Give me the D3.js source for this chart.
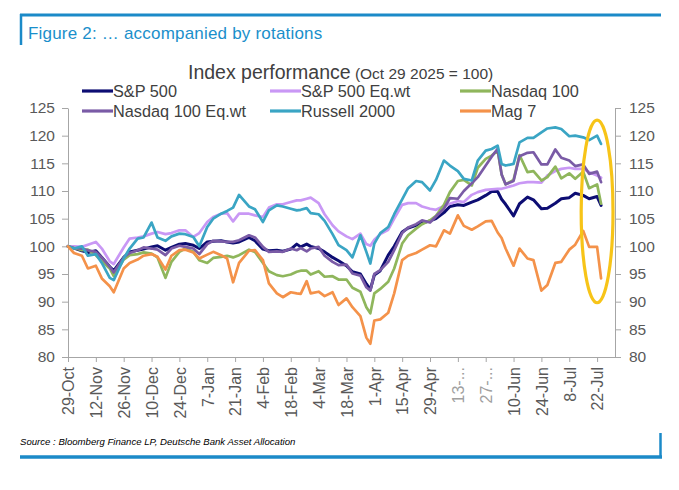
<!DOCTYPE html>
<html><head><meta charset="utf-8">
<script src="https://cdn.jsdelivr.net/npm/d3@7"></script>
<style>
body{margin:0;background:#fff;}
svg{display:block;font-family:"Liberation Sans",Arial,sans-serif;}
</style>
</head><body>
<svg id="c" width="679" height="490"></svg>
<script>
// ---------- DATA ----------
const baseDate = "2025-10-29";
// observation dates as day offsets from baseDate
const dayOffsets = [0,3,7,10,14,17,21,23,28,31,35,38,42,45,49,52,56,59,63,66,70,73,77,80,83,86,91,94,98,101,105,108,112,115,117,120,122,126,129,133,136,140,143,147,150,152,154,157,161,164,168,171,175,178,182,185,189,192,196,199,203,206,210,213,216,218,220,224,227,231,234,238,241,245,248,252,255,259,262,266,268];

const sp500 = [100,99.7,99.2,98.9,99.2,98.0,96.3,95.6,98.0,99.0,
 99.3,99.5,99.9,100.1,99.3,99.8,100.4,100.5,100.2,99.6,
 100.8,100.9,101.0,100.8,100.6,100.8,101.6,101.0,99.5,99.2,
 99.3,99.1,99.5,100.4,99.9,100.4,100.0,99.6,99.0,98.0,
 97.4,96.5,95.4,95.0,93.2,92.2,94.8,95.6,98.4,100.0,
 102.6,103.3,103.8,104.2,104.6,105.0,106.1,107.2,107.5,107.4,
 108.0,108.4,109.2,109.9,109.9,108.5,107.6,105.5,107.7,108.9,
 108.4,106.8,106.9,107.8,108.6,108.8,109.6,109.2,108.6,109.0,
 107.4];
const sp500Eqwt = [100,100.0,99.9,100.3,100.8,99.6,97.3,96.8,99.8,101.4,
 101.6,101.8,102.3,102.6,102.2,102.4,102.9,102.9,101.7,102.4,
 104.4,105.3,105.9,106.0,104.5,105.9,105.9,105.6,105.3,107.0,
 107.6,107.6,108.0,108.3,108.3,108.6,108.8,107.8,105.8,103.8,
 102.7,101.8,101.3,102.3,100.4,100.1,101.2,102.2,103.0,105.0,
 107.5,107.8,107.8,107.2,106.8,106.6,107.3,107.7,108.2,108.0,
 109.3,109.8,110.2,110.3,110.4,110.4,110.6,111.0,111.4,111.6,
 111.6,111.5,112.8,113.6,114.0,114.2,114.0,114.0,113.4,112.8,
 112.4];
const nasdaq100 = [100,99.7,99.3,99.4,98.4,97.3,96.0,94.6,97.6,98.4,
 98.6,98.9,98.7,98.0,94.3,97.2,99.0,99.6,99.0,97.5,
 97.0,97.9,98.1,98.3,98.0,98.4,99.4,99.0,97.0,95.5,
 94.8,94.6,94.9,95.4,95.6,95.6,94.9,95.5,94.5,94.6,
 94.0,94.0,92.5,91.8,89.0,87.9,91.5,92.3,93.6,96.0,
 100.5,102.0,103.2,104.0,104.7,105.5,107.5,109.8,111.8,112.0,
 111.0,114.2,115.8,116.4,117.3,113.0,111.2,112.0,116.5,113.4,
 113.6,111.9,112.5,114.4,112.3,113.2,112.2,113.5,110.5,111.2,
 107.7];
const nasdaq100Eqwt = [100,99.7,99.6,99.3,99.0,98.0,96.3,95.3,98.0,98.8,
 99.3,99.8,99.6,99.4,98.4,99.6,100.1,99.9,99.6,98.6,
 100.4,101.0,100.9,100.8,100.8,101.1,102.0,101.6,99.9,99.0,
 99.1,99.0,99.6,99.3,99.7,99.1,99.6,99.9,98.3,97.2,
 96.6,96.7,95.1,94.7,92.6,92.0,95.0,95.7,97.2,99.3,
 102.4,103.4,104.0,104.7,104.3,105.4,106.8,108.7,108.6,110.0,
 111.4,112.5,114.6,116.2,117.6,113.0,111.2,111.8,116.3,116.9,
 117.0,114.8,114.8,117.5,116.0,115.5,114.5,114.8,113.1,113.5,
 111.6];
const russell2000 = [100,99.6,100.0,98.3,98.6,97.0,94.3,93.9,97.8,99.6,
 101.4,101.6,104.3,101.6,101.0,101.8,102.3,102.2,101.7,100.0,
 103.5,105.0,105.9,106.4,107.0,109.3,107.2,106.7,104.4,106.5,
 107.4,107.2,106.8,106.5,106.6,106.9,106.0,105.8,104.6,102.2,
 100.2,99.3,98.0,102.0,99.0,96.9,100.5,102.4,103.5,105.8,
 108.5,110.5,111.8,111.6,110.1,112.0,115.5,114.6,113.6,112.2,
 111.9,115.5,117.3,117.6,118.2,114.9,114.6,114.9,118.8,119.6,
 119.6,120.6,121.3,121.5,121.2,119.9,120.0,119.7,119.2,120.0,
 118.5];
const mag7 = [100,98.8,98.3,96.0,96.5,94.2,92.8,91.7,96.0,97.0,
 97.6,98.3,98.6,98.1,95.8,98.3,99.3,99.4,98.9,97.8,
 98.5,99.0,98.4,97.8,93.5,97.0,99.2,99.3,97.5,93.3,
 91.5,90.8,91.7,91.5,91.4,93.7,91.5,91.8,91.0,91.7,
 89.4,90.6,89.0,87.4,83.5,82.4,86.6,86.8,88.0,91.5,
 97.5,98.3,98.8,99.4,100.2,100.0,102.9,102.3,105.6,103.7,
 103.0,103.6,104.5,104.6,102.5,101.5,99.6,96.5,99.6,97.8,
 97.5,92.0,93.0,97.0,97.2,99.4,100.3,102.8,99.9,99.9,
 94.2];

const seriesNames = ["S&P 500","S&P 500 Eq.wt","Nasdaq 100","Nasdaq 100 Eq.wt","Russell 2000","Mag 7"];
const seriesValues = [sp500, sp500Eqwt, nasdaq100, nasdaq100Eqwt, russell2000, mag7];
const seriesColors = ["#0d0d73","#c998f5","#8fb65c","#7a5ba6","#3aa5c4","#f4924a"];

const tickDates = ["2025-10-29","2025-11-12","2025-11-26","2025-12-10","2025-12-24","2026-01-07","2026-01-21","2026-02-04","2026-02-18","2026-03-04","2026-03-18","2026-04-01","2026-04-15","2026-04-29","2026-05-13","2026-05-27","2026-06-10","2026-06-24","2026-07-08","2026-07-22"];
const tickLabels = ["29-Oct","12-Nov","26-Nov","10-Dec","24-Dec","7-Jan","21-Jan","4-Feb","18-Feb","4-Mar","18-Mar","1-Apr","15-Apr","29-Apr","13-...","27-...","10-Jun","24-Jun","8-Jul","22-Jul"];
const faintLabels = ["13-...","27-..."];
const yTicks = [80,85,90,95,100,105,110,115,120,125];
const xDomain = ["2025-10-29","2026-07-31"];
const yDomain = [80,125];
// highlight ellipse around the latest moves (date range, value range)
const highlightDates = ["2026-07-14","2026-07-30"];
const highlightValues = [89.8,122.8];

// ---------- CHART ----------
const parse = d3.utcParse("%Y-%m-%d");
const base = parse(baseDate);
const dates = dayOffsets.map(d => d3.utcDay.offset(base, d));

const svg = d3.select("#c");
const L = 68, R = 615, T = 108, B = 357;
const x = d3.scaleUtc().domain(xDomain.map(parse)).range([L, R]);
const y = d3.scaleLinear().domain(yDomain).range([B, T]);

const blue = "#1b8ac8";
const axisGrey = "#a6a6a6";
const textGrey = "#595959";

// frame
svg.append("line").attr("x1",20).attr("x2",661).attr("y1",15).attr("y2",15).attr("stroke",blue).attr("stroke-width",3);
svg.append("line").attr("x1",21).attr("x2",21).attr("y1",14).attr("y2",45).attr("stroke",blue).attr("stroke-width",2.5);
svg.append("line").attr("x1",20).attr("x2",662).attr("y1",457).attr("y2",457).attr("stroke",blue).attr("stroke-width",3.5);
svg.append("line").attr("x1",660.5).attr("x2",660.5).attr("y1",433).attr("y2",458).attr("stroke",blue).attr("stroke-width",2.5);

svg.append("text").attr("x",28).attr("y",39).attr("fill","#1a8fcb")
  .attr("font-size",17).attr("letter-spacing",0.2).text("Figure 2: … accompanied by rotations");

const title = svg.append("text").attr("x",188).attr("y",79).attr("fill","#404040");
title.append("tspan").attr("font-size",19.5).text("Index performance");
title.append("tspan").attr("font-size",15.5).text(" (Oct 29 2025 = 100)");

// legend
const legendX = [82, 270, 460];
const legendY = [91, 111];
seriesNames.forEach((n, i) => {
  const lx = legendX[i % 3], ly = legendY[Math.floor(i / 3)];
  svg.append("line").attr("x1",lx).attr("x2",lx+31).attr("y1",ly).attr("y2",ly)
    .attr("stroke",seriesColors[i]).attr("stroke-width",3.2);
  svg.append("text").attr("x",lx+31).attr("y",ly).attr("dy","0.36em")
    .attr("font-size",16.3).attr("fill","#404040").text(n);
});

// axes
function styleAxis(g){
  g.select(".domain").attr("stroke",axisGrey).attr("stroke-width",1);
  g.selectAll(".tick line").attr("stroke",axisGrey);
  g.selectAll(".tick text").attr("fill",textGrey).attr("font-family",'"Liberation Sans",Arial,sans-serif');
}
const gl = svg.append("g").attr("transform",`translate(${L},0)`)
  .call(d3.axisLeft(y).tickValues(yTicks).tickSize(6).tickSizeOuter(0).tickPadding(7));
styleAxis(gl); gl.selectAll(".tick text").attr("font-size",15.5);
const gr = svg.append("g").attr("transform",`translate(${R},0)`)
  .call(d3.axisRight(y).tickValues(yTicks).tickSize(6).tickSizeOuter(0).tickPadding(8));
styleAxis(gr); gr.selectAll(".tick text").attr("font-size",15.5);

const gx = svg.append("g").attr("transform",`translate(0,${B})`)
  .call(d3.axisBottom(x).tickValues(tickDates.map(parse)).tickSize(5).tickSizeOuter(0)
    .tickFormat((d,i) => tickLabels[i]));
styleAxis(gx);
gx.selectAll(".tick text")
  .attr("font-size",16).attr("transform","rotate(-90)")
  .attr("x",-10).attr("y",0).attr("dy","0.36em").attr("text-anchor","end")
  .attr("fill",(d,i) => faintLabels.includes(tickLabels[i]) ? "#a0a0a0" : textGrey);

// lines
const line = d3.line().x((d,i) => x(dates[i])).y(d => y(d));
seriesValues.forEach((vals, i) => {
  svg.append("path").datum(vals).attr("d", line)
    .attr("fill","none").attr("stroke",seriesColors[i])
    .attr("stroke-width", i === 0 ? 3 : 2.7)
    .attr("stroke-linejoin","round").attr("stroke-linecap","round");
});

// highlight ellipse
const hx0 = x(parse(highlightDates[0])), hx1 = x(parse(highlightDates[1]));
const hy0 = y(highlightValues[1]), hy1 = y(highlightValues[0]);
svg.append("ellipse").attr("cx",(hx0+hx1)/2).attr("cy",(hy0+hy1)/2)
  .attr("rx",(hx1-hx0)/2).attr("ry",(hy1-hy0)/2)
  .attr("fill","none").attr("stroke","#f7c418").attr("stroke-width",3.2);

// source
svg.append("text").attr("x",20).attr("y",445).attr("font-size",9.6).attr("font-style","italic")
  .attr("fill","#000").text("Source : Bloomberg Finance LP, Deutsche Bank Asset Allocation");
</script>
</body></html>
